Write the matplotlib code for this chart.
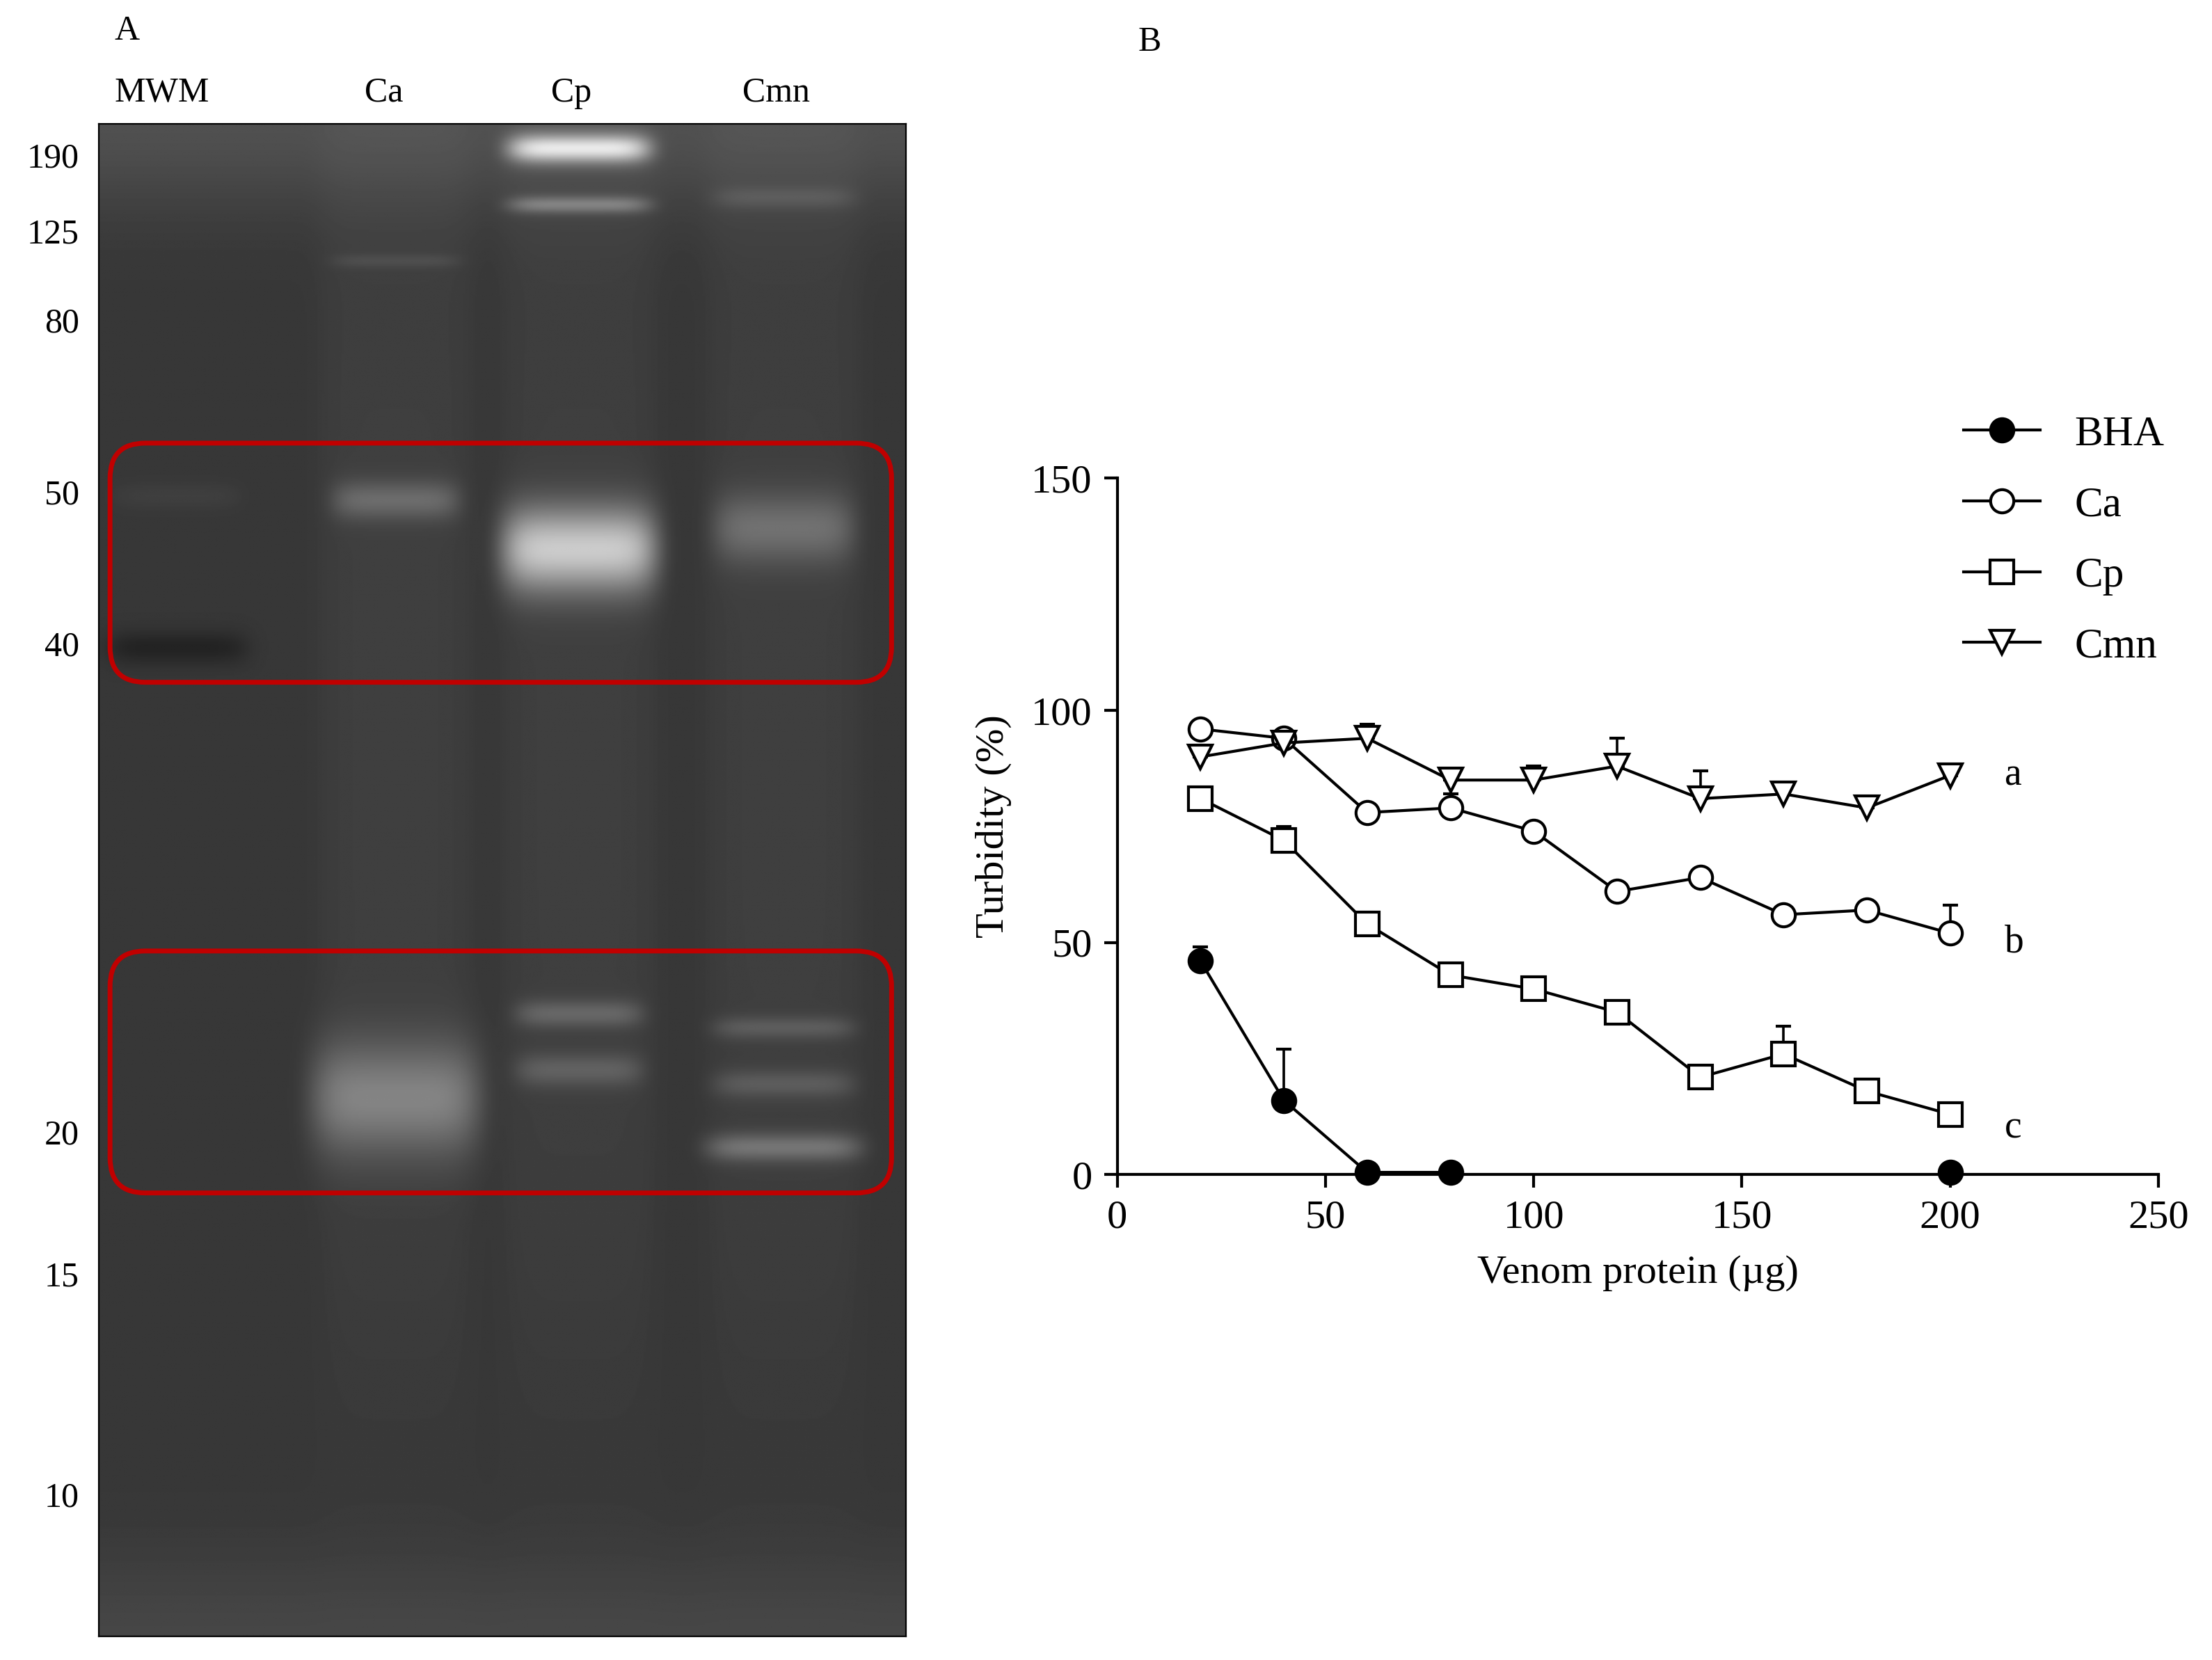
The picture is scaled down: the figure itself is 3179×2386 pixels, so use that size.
import numpy as np
import matplotlib
matplotlib.use("Agg")
import matplotlib.pyplot as plt
from matplotlib.patches import FancyBboxPatch
from matplotlib.lines import Line2D

plt.rcParams['font.family'] = ['Liberation Serif', 'DejaVu Serif']

# ---- Panel B data ----
x_bha = [20, 40, 60, 80, 200]
y_bha = [46, 16, 0.5, 0.5, 0.5]
e_bha = [3, 11, 0, 0, 0]
x_all = [20, 40, 60, 80, 100, 120, 140, 160, 180, 200]
y_ca = [96, 94, 78, 79, 74, 61, 64, 56, 57, 52]
e_ca = [0, 1, 0, 3, 0, 0, 0, 0, 0, 6]
y_cp = [81, 72, 54, 43, 40, 35, 21, 26, 18, 13]
e_cp = [0, 3, 0, 0, 0, 0, 0, 6, 0, 0]
y_cmn = [90, 93, 94, 85, 85, 88, 81, 82, 79, 86]
e_cmn = [0, 0, 3, 0, 3, 6, 6, 0, 0, 2]
groups = ['a', 'b', 'c']
group_y = [86, 50, 10]

# ---- Panel A data ----
lanes = ['MWM', 'Ca', 'Cp', 'Cmn']
lane_x = [125, 280, 410, 555]
mw_labels = ['190', '125', '80', '50', '40', '20', '15', '10']
mw_y = [113, 167, 230, 352, 460, 807, 908, 1065]
# bands: (lane index, y, intensity, half-height, half-width)
bands = [(0, 460, -20, 12, 50), (0, 352, 8, 10, 45),
         (1, 355, 45, 14, 45), (1, 780, 70, 40, 60), (1, 185, 15, 5, 45),
         (2, 105, 150, 10, 50), (2, 145, 60, 6, 50), (2, 390, 140, 30, 55),
         (2, 720, 40, 10, 45), (2, 760, 35, 12, 45),
         (3, 375, 50, 25, 50), (3, 730, 30, 8, 50), (3, 770, 30, 10, 50),
         (3, 815, 55, 10, 55), (3, 140, 20, 8, 50)]

fig = plt.figure(figsize=(15.895, 11.93), dpi=200)
W, H = 1568, 1180
def fx(px): return px / W
def fy(py): return 1 - py / H

# gel
axg = fig.add_axes([fx(70), fy(1163), fx(642) - fx(70), fy(88) - fy(1163)])
xs = np.arange(70, 642)
ys = np.arange(88, 1163)
X, Y = np.meshgrid(xs, ys)
img = np.full(X.shape, 55.0)
img += 25 * np.exp(-((Y - 88) / 60.0) ** 2) + 15 * np.exp(-((Y - 1163) / 60.0) ** 2)
for lx in lane_x[1:]:
    img += 8 * np.exp(-((X - lx) / 55.0) ** 6) * np.exp(-((Y - 500) / 500.0) ** 4)
for li, by, inten, hh, hw in bands:
    img += inten * np.exp(-((Y - by) / hh) ** 2) * np.exp(-((X - lane_x[li]) / hw) ** 6)
img = np.clip(img, 0, 255)
axg.imshow(img, cmap='gray', vmin=0, vmax=255, extent=(70, 642, 1163, 88), aspect='auto')
axg.set_xlim(70, 642); axg.set_ylim(1163, 88)
axg.set_xticks([]); axg.set_yticks([])
for r in [(78, 315, 554, 170), (78, 676, 554, 172)]:
    axg.add_patch(FancyBboxPatch((r[0], r[1]), r[2], r[3], boxstyle="round,pad=0,rounding_size=25",
                                 fill=False, ec='#c00000', lw=2.5, mutation_aspect=1))
for name, lx in zip(lanes, [115, 272, 405, 550]):
    fig.text(fx(lx), fy(66), name, ha='center', va='center', fontsize=18)
for lab, my in zip(mw_labels, mw_y):
    fig.text(fx(56), fy(my), lab, ha='right', va='center', fontsize=18)
fig.text(fx(90), fy(22), 'A', ha='center', va='center', fontsize=18)
fig.text(fx(815), fy(30), 'B', ha='center', va='center', fontsize=18)

# chart
ax = fig.add_axes([fx(792), fy(835), fx(1530) - fx(792), fy(340) - fy(835)])
ms = 12
kw = dict(color='black', lw=1.5, ms=ms, capsize=4, elinewidth=1.3, mew=1.5, clip_on=False)
ax.errorbar(x_bha[:4], y_bha[:4], yerr=[np.zeros(4), e_bha[:4]], marker='o', mfc='black', **kw)
ax.errorbar(x_bha[4:], y_bha[4:], yerr=[np.zeros(1), e_bha[4:]], marker='o', mfc='black', **kw)
ax.errorbar(x_all, y_ca, yerr=[np.zeros(10), e_ca], marker='o', mfc='white', **kw)
ax.errorbar(x_all, y_cp, yerr=[np.zeros(10), e_cp], marker='s', mfc='white', **kw)
ax.errorbar(x_all, y_cmn, yerr=[np.zeros(10), e_cmn], marker='v', mfc='white', **kw)
for g, gy in zip(groups, group_y):
    ax.text(213, gy, g, fontsize=20, va='center')
ax.set_xlim(0, 250); ax.set_ylim(0, 150)
ax.set_xticks([0, 50, 100, 150, 200, 250]); ax.set_yticks([0, 50, 100, 150])
ax.tick_params(labelsize=21, width=1.5, length=7, pad=6)
for s in ['top', 'right']:
    ax.spines[s].set_visible(False)
for s in ['left', 'bottom']:
    ax.spines[s].set_linewidth(1.5)
ax.set_xlabel('Venom protein (µg)', fontsize=21, labelpad=10)
ax.set_ylabel('Turbidity (%)', fontsize=21, labelpad=10)
handles = [Line2D([], [], color='black', lw=1.5, marker=m, mfc=fc, ms=ms, mew=1.5)
           for m, fc in [('o', 'black'), ('o', 'white'), ('s', 'white'), ('v', 'white')]]
fig.legend(handles, ['BHA', 'Ca', 'Cp', 'Cmn'], loc='upper left', bbox_to_anchor=(fx(1365), fy(268)),
           frameon=False, fontsize=22, handlelength=1.8, labelspacing=0.75)
fig.savefig('out.png', dpi=200, facecolor='white')
